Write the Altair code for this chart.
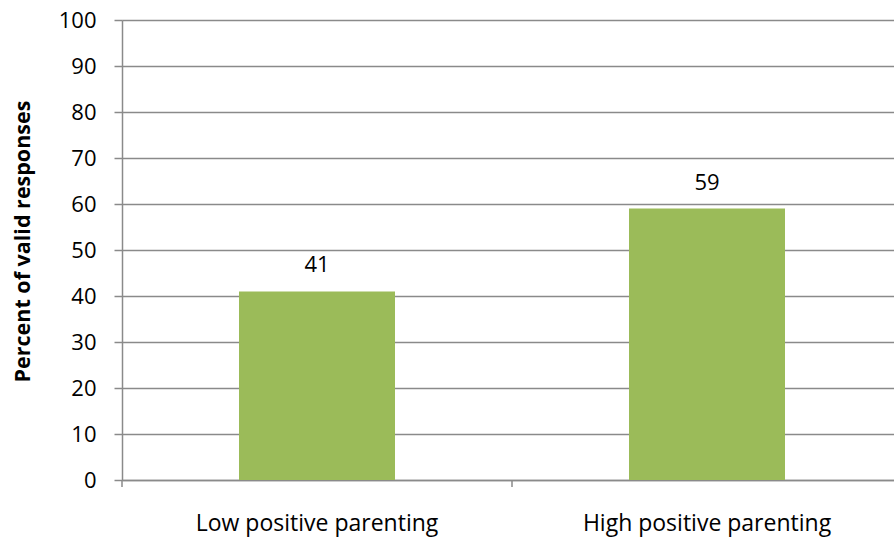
import altair as alt
import pandas as pd

categories = ["Low positive parenting", "High positive parenting"]
values = [41, 59]
y_ticks = [0, 10, 20, 30, 40, 50, 60, 70, 80, 90, 100]

df = pd.DataFrame({"category": categories, "value": values})

FONT = "Open Sans"
GRAY = "#8a8a8a"

x_scale = alt.Scale(paddingInner=0.6, paddingOuter=0.3, range=[0, 780])
x_axis = alt.Axis(title=None, ticks=False, domain=True, domainColor=GRAY, domainWidth=1.5,
                  labelFont=FONT, labelFontSize=23, labelColor="#000000", labelPadding=43,
                  labelBaseline="middle", labelLimit=0, labelAngle=0, grid=False)
y_axis = alt.Axis(title="Percent of valid responses", values=y_ticks, grid=True,
                  gridColor=GRAY, gridWidth=1.5, domainColor=GRAY, domainWidth=1.5,
                  tickColor=GRAY, tickWidth=1.5, tickSize=8,
                  labelFont=FONT, labelFontSize=22, labelColor="#000000", labelPadding=18,
                  titleFont=FONT, titleFontSize=21.5, titleFontWeight="bold", titleColor="#000000",
                  titleX=-99, titleY=221, titleAngle=-90, titleAlign="center",
                  titleBaseline="middle")

base = alt.Chart(df)

bars = base.mark_bar(color="#9BBB59").encode(
    x=alt.X("category:N", sort=categories, scale=x_scale, axis=x_axis),
    y=alt.Y("value:Q", scale=alt.Scale(domain=[0, 100], nice=False), axis=y_axis),
)

labels = base.mark_text(dy=-26, fontSize=22, font=FONT, baseline="middle", color="#000000").encode(
    x=alt.X("category:N", sort=categories),
    y=alt.Y("value:Q"),
    text=alt.Text("value:Q"),
)

ticks = base.mark_rule(color=GRAY, strokeWidth=1.5, xOffset=-117).encode(
    x=alt.X("category:N", sort=categories, bandPosition=0),
    y=alt.value(460),
    y2=alt.value(467),
)

chart = alt.layer(bars, ticks, labels).properties(
    width=772, height=460,
    autosize=alt.AutoSizeParams(type="none"),
    padding={"left": 122, "top": 20, "right": 0, "bottom": 60},
).configure_view(stroke=None).configure(background="white")

chart.save("out.html", embed_options={"renderer": "svg", "actions": False})
